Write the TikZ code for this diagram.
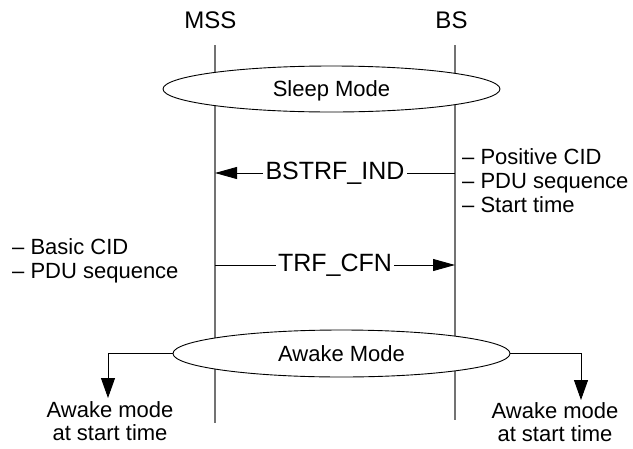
\documentclass[tikz,border=0pt]{standalone}
\usepackage{fontspec}
\setmainfont{Liberation Sans}
\usetikzlibrary{shapes.geometric,arrows.meta}
\begin{document}
\begin{tikzpicture}[x=1pt,y=-1pt,
  lifeline/.style={draw=black!55, line width=1.2pt},
  modebox/.style={ellipse, draw=black, line width=0.9pt, fill=white, minimum width=337pt, minimum height=46pt, inner sep=0pt, font=\fontsize{22}{24}\selectfont, text depth=0pt},
  actor/.style={anchor=base, inner sep=0pt, font=\fontsize{24}{26}\selectfont},
  msg/.style={draw=black, line width=0.9pt, -{Triangle[length=22pt,width=12pt]}},
  msglabel/.style={fill=white, inner xsep=2.5pt, inner ysep=1pt, font=\fontsize{25}{27}\selectfont},
  note/.style={anchor=base west, inner sep=0pt, font=\fontsize{22}{24}\selectfont},
  wake/.style={draw=black, line width=0.9pt, -{Triangle[length=20pt,width=14pt]}},
  wakelabel/.style={align=center, inner sep=0pt, font=\fontsize{22}{23}\selectfont}
]
\useasboundingbox (0,0) rectangle (633,448);
% actors
\node[actor] (mss) at (210.5,28) {MSS};
\node[actor] (bs) at (451.5,28) {BS};
% lifelines
\coordinate (mssTop) at (215,45);
\coordinate (mssBot) at (215,423);
\coordinate (bsTop) at (455,45);
\coordinate (bsBot) at (455,420);
\draw[lifeline] (mssTop) -- (mssBot);
\draw[lifeline] (bsTop) -- (bsBot);
% modes
\node[modebox] (sleep) at (331.5,89) {Sleep Mode};
\node[modebox, minimum height=47pt] (awake) at (341.5,353.5) {Awake Mode};
% messages
\coordinate (m1bs) at (455,173);
\coordinate (m1ms) at (215,173);
\draw[msg] (m1bs) -- node[msglabel] (bstrf) {BSTRF\_IND} (m1ms);
\coordinate (m2ms) at (215,265);
\coordinate (m2bs) at (455,265);
\draw[msg] (m2ms) -- node[msglabel] (trf) {TRF\_CFN} (m2bs);
% notes
\node[note] (r1) at (462,164) {– Positive CID};
\node[note] (r2) at (462,188) {– PDU sequence};
\node[note] (r3) at (462,212) {– Start time};
\node[note] (l1) at (12,254) {– Basic CID};
\node[note] (l2) at (12,278.5) {– PDU sequence};
% awake arrows
\coordinate (wl) at (108,398);
\coordinate (wr) at (581,400);
\draw[wake] (awake.west) -| (wl);
\draw[wake] (awake.east) -| (wr);
\node[wakelabel] (wlT) at (110,421.5) {Awake mode\\at start time};
\node[wakelabel] (wrT) at (555,422.5) {Awake mode\\at start time};
\end{tikzpicture}
\end{document}
